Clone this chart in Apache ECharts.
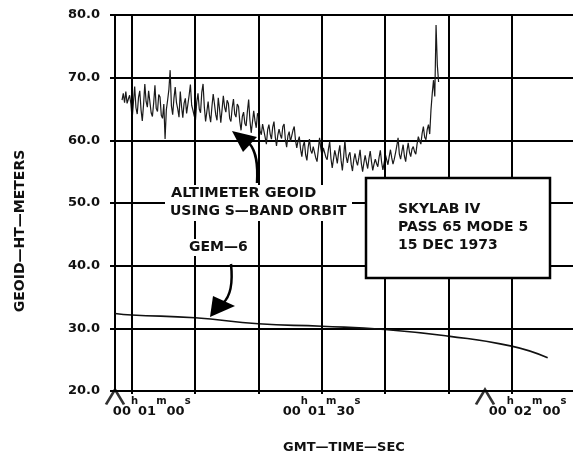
<!DOCTYPE html>
<html>
<head>
<meta charset="utf-8">
<script src="https://cdn.jsdelivr.net/npm/echarts@6/dist/echarts.min.js"></script>
<style>
html,body{margin:0;padding:0;background:#fff;}
#chart{width:573px;height:459px;}
</style>
</head>
<body>
<div id="chart"></div>
<script>
// ---- data (times in seconds after 00h00m00s GMT) ----
const gridTimes = [60, 70, 80, 90, 100, 110, 120];
const xLabelTimes = [60, 90, 120];
const caretTimes = [57.36, 115.8];
const gemTimes = [57.36, 60, 70, 80, 90, 100, 110, 120, 125.7];
const gemValues = [32.37, 32.13, 31.68, 30.72, 30.34, 29.82, 28.75, 27.16, 25.31];
const altStart = 58.47;
const altStep = 0.2;
const altValues = [
  66.4, 67.5, 66.0, 67.8, 65.9, 66.6, 67.2, 65.8, 63.4, 66.1,
  68.6, 65.2, 64.2, 66.8, 67.9, 64.9, 63.1, 65.7, 69.0, 66.2,
  65.3, 67.9, 67.6, 64.4, 63.8, 66.0, 68.8, 65.1, 64.6, 67.3,
  66.9, 64.0, 63.5, 65.8, 60.2, 64.9, 66.4, 68.1, 71.2, 65.5,
  64.1, 66.7, 68.5, 66.0, 65.0, 63.7, 67.8, 65.4, 63.6, 65.9,
  66.7, 64.3, 64.0, 67.2, 68.9, 65.6, 64.8, 63.9, 63.2, 66.1,
  67.5, 65.0, 64.4, 67.7, 69.0, 65.3, 63.0, 64.6, 66.2, 64.1,
  62.9, 65.4, 67.4, 65.8, 64.1, 63.2, 66.8, 65.0, 62.8, 64.9,
  67.1, 65.3, 64.5, 66.4, 65.9, 63.5, 63.0, 65.2, 66.6, 64.2,
  63.7, 65.8, 65.4, 63.0, 61.6, 63.8, 64.5, 62.7, 62.3, 64.6,
  66.5, 63.2, 61.2, 62.9, 64.7, 63.1, 62.0, 64.3, 63.9, 61.5,
  60.9, 62.6, 62.8, 60.5, 59.4, 61.7, 62.5, 61.0, 60.2, 62.1,
  63.0, 60.6, 59.1, 60.8, 61.8, 60.9, 60.3, 62.2, 62.6, 60.1,
  58.9, 60.7, 61.4, 59.8, 59.5, 61.6, 62.2, 60.0, 58.8, 59.9,
  60.6, 58.6, 57.4, 59.1, 59.8, 57.7, 56.8, 58.9, 60.2, 58.4,
  57.9, 59.0, 59.3, 57.2, 56.6, 58.5, 60.4, 58.7, 57.5, 58.8,
  58.9, 57.3, 56.9, 58.6, 59.8, 57.1, 55.6, 57.0, 58.4, 57.5,
  56.3, 58.0, 59.2, 56.8, 55.2, 57.3, 60.0, 57.4, 56.4, 57.6,
  58.1, 56.2, 55.1, 56.9, 57.9, 56.7, 56.0, 57.2, 58.5, 56.3,
  55.0, 56.4, 57.6, 56.5, 55.5, 57.1, 58.3, 56.6, 55.2, 56.2,
  57.0, 56.3, 55.8, 57.3, 58.4, 56.5, 55.3, 56.4, 57.7, 56.9,
  56.1, 57.4, 58.5, 57.2, 56.2, 57.0, 58.0, 59.1, 60.4, 57.8,
  57.0, 58.2, 59.3, 57.5, 56.6, 58.3, 59.6, 58.1, 57.4, 58.6,
  59.0, 58.2, 57.8, 59.4, 60.6, 59.9, 59.4, 61.1, 62.2, 60.5,
  60.1, 61.7, 62.5, 61.0, 64.9, 67.5, 69.6, 67.0, 78.4, 72.0,
  69.3
];
const yMin = 20, yMax = 80, yStep = 10;
const xMin = 57.36, xMax = 129.7;

const altData = altValues.map((v, i) => [altStart + i * altStep, v]);
const gemData = gemTimes.map((t, i) => [t, gemValues[i]]);
const caretData = caretTimes.map(t => [t, yMin]);

const pad2 = n => String(n).padStart(2, '0');
function timeLabel(v) {
  const t = Math.round(v);
  const h = Math.floor(t / 3600), m = Math.floor((t % 3600) / 60), s = t % 60;
  let pre = '';
  if (t === 60) pre = '{p40| }';
  else if (t === 120) pre = '{p32| }';
  return pre + '{n|' + pad2(h) + '}{s|h}{n|' + pad2(m) + '}{s|m}{n|' + pad2(s) + '}{s|s}';
}

const FONT = '"DejaVu Sans", sans-serif';
const chart = echarts.init(document.getElementById('chart'), null, {renderer: 'canvas'});
chart.setOption({
  animation: false,
  backgroundColor: '#fff',
  grid: {left: 115, top: 15, right: 0, bottom: 67.3, containLabel: false},
  xAxis: {
    type: 'value', min: xMin, max: xMax,
    axisLine: {show: true, lineStyle: {color: '#000', width: 2}},
    axisTick: {show: true, customValues: gridTimes, length: 3, lineStyle: {color: '#000', width: 2}},
    splitLine: {show: false},
    axisLabel: {
      customValues: xLabelTimes, margin: 5, formatter: timeLabel,
      rich: {
        n: {fontFamily: FONT, fontWeight: 'bold', fontSize: 13, color: '#111', lineHeight: 22, verticalAlign: 'bottom'},
        s: {fontFamily: FONT, fontWeight: 'bold', fontSize: 10, color: '#111', lineHeight: 10, verticalAlign: 'top'},
        p40: {width: 40, fontSize: 10},
        p32: {width: 32, fontSize: 10}
      }
    },
    name: 'GMT\u2014TIME\u2014SEC', nameLocation: 'middle', nameGap: 50,
    nameTextStyle: {fontFamily: FONT, fontWeight: 'bold', fontSize: 13, color: '#111'}
  },
  yAxis: {
    type: 'value', min: yMin, max: yMax, interval: yStep,
    axisLine: {show: true, lineStyle: {color: '#000', width: 2}},
    axisTick: {show: true, length: 5, lineStyle: {color: '#000', width: 2}},
    splitLine: {show: true, lineStyle: {color: '#000', width: 2}},
    axisLabel: {margin: 15, formatter: v => v.toFixed(1), fontFamily: FONT, fontWeight: 'bold', fontSize: 13, color: '#111'},
    name: 'GEOID\u2014HT\u2014METERS', nameLocation: 'middle', nameRotate: 90, nameGap: 88,
    nameTextStyle: {fontFamily: FONT, fontWeight: 'bold', fontSize: 14, color: '#111', padding: [0, 56, 0, 0]}
  },
  series: [
    {
      type: 'line', data: gemData, showSymbol: false, smooth: true, z: 3,
      lineStyle: {color: '#111', width: 1.6},
      markLine: {
        silent: true, symbol: ['none', 'none'], animation: false,
        label: {show: false},
        lineStyle: {color: '#000', width: 2, type: 'solid'},
        data: gridTimes.map(t => ({xAxis: t}))
      }
    },
    {
      type: 'line', data: altData, showSymbol: false, z: 4,
      lineStyle: {color: '#1a1a1a', width: 1.2}
    },
    {
      type: 'scatter', data: caretData, clip: false, z: 5,
      symbol: 'path://M0,14 L8,0 L16,14', symbolSize: [18, 15], symbolOffset: [0, 6],
      itemStyle: {color: 'rgba(0,0,0,0)', borderColor: '#000', borderWidth: 2.5}
    }
  ],
  graphic: [
    {type: 'rect', z: 100, shape: {x: 165, y: 185, width: 187, height: 36}, style: {fill: '#fff'}},
    {type: 'text', z: 101, left: 171, top: 186, style: {text: 'ALTIMETER GEOID', font: 'bold 14.5px ' + FONT, fill: '#111'}},
    {type: 'text', z: 101, left: 170, top: 204, style: {text: 'USING S\u2014BAND ORBIT', font: 'bold 14px ' + FONT, fill: '#111'}},
    {type: 'rect', z: 100, shape: {x: 186, y: 239, width: 63, height: 17}, style: {fill: '#fff'}},
    {type: 'text', z: 101, left: 189, top: 240, style: {text: 'GEM\u20146', font: 'bold 14px ' + FONT, fill: '#111'}},
    {type: 'bezierCurve', z: 101, shape: {x1: 249, y1: 143, cpx1: 257, cpy1: 152, cpx2: 258, cpy2: 166, x2: 257, y2: 183}, style: {stroke: '#000', lineWidth: 2.5, fill: null}},
    {type: 'polygon', z: 101, shape: {points: [[232, 131], [257, 137], [243, 152]]}, style: {fill: '#000'}},
    {type: 'bezierCurve', z: 101, shape: {x1: 231, y1: 264, cpx1: 233, cpy1: 283, cpx2: 231, cpy2: 296, x2: 223, y2: 303}, style: {stroke: '#000', lineWidth: 2.5, fill: null}},
    {type: 'polygon', z: 101, shape: {points: [[210, 317], [213, 296], [235, 306]]}, style: {fill: '#000'}},
    {type: 'rect', z: 100, shape: {x: 366, y: 178, width: 184, height: 100}, style: {fill: '#fff', stroke: '#000', lineWidth: 2.5}},
    {type: 'text', z: 101, left: 398, top: 200, style: {text: 'SKYLAB IV\nPASS 65 MODE 5\n15 DEC 1973', font: 'bold 14px ' + FONT, fill: '#111', lineHeight: 18}}
  ]
});
</script>
</body>
</html>
